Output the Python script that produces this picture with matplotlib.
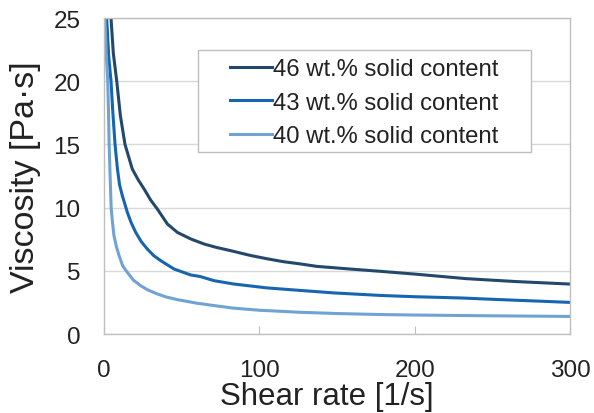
import numpy as np
import matplotlib
matplotlib.use("Agg")
import matplotlib.pyplot as plt
from matplotlib.patches import Rectangle

plt.rcParams['font.family'] = ['Liberation Sans', 'DejaVu Sans']

# shear rate [1/s] and viscosity [Pa s]
rate_46 = [4.5, 6, 8.2, 10.5, 13.5, 18.2, 22, 25.8, 30, 34.3, 40.8, 47.2, 55.8, 64.4, 72, 83, 94, 105, 115.5,
           126, 137, 158.4, 177.8, 200, 233, 265, 300]
visc_46 = [25.0, 22.2, 20.0, 17.3, 15.0, 13.05, 12.2, 11.47, 10.6, 9.89, 8.7, 8.04, 7.52, 7.12, 6.86, 6.55, 6.22,
           5.95, 5.72, 5.55, 5.35, 5.14, 4.96, 4.74, 4.38, 4.15, 3.95]

rate_43 = [1.7, 3, 4.5, 5.7, 7.1, 8.6, 10, 11.8, 15, 17.5, 20.4, 24, 27.9, 32, 36.5, 45.1, 55.8, 61.8, 70.8,
           83.2, 104.7, 126, 148, 178, 200, 230, 255, 280, 300]
visc_43 = [25.0, 22.0, 20.0, 17.5, 15.0, 13.1, 11.8, 10.94, 9.63, 8.8, 8.04, 7.3, 6.72, 6.2, 5.8, 5.14, 4.67,
           4.55, 4.22, 3.96, 3.65, 3.45, 3.25, 3.05, 2.95, 2.85, 2.72, 2.6, 2.5]

rate_40 = [0.6, 1.5, 2.4, 2.9, 3.3, 3.9, 4.6, 5.4, 6.4, 8, 9.7, 12, 15, 19, 23.6, 28, 34.3, 40, 47.2, 60.1,
           70.8, 83, 100, 126, 150, 178, 200, 250, 300]
visc_40 = [25.0, 22.0, 20.0, 17.5, 15.0, 12.6, 10.0, 8.9, 7.78, 6.9, 6.2, 5.4, 4.88, 4.25, 3.82, 3.5, 3.17,
           2.93, 2.72, 2.43, 2.25, 2.05, 1.88, 1.72, 1.62, 1.54, 1.5, 1.44, 1.39]

labels = ['46 wt.% solid content', '43 wt.% solid content', '40 wt.% solid content']
colors = ['#24486b', '#1565b1', '#6ea3d3']

fig = plt.figure(figsize=(5.94, 4.14), dpi=100)
ax = fig.add_axes([0.1751, 0.1908, 0.785, 0.7633])

ax.plot(rate_46, visc_46, color=colors[0], lw=2.2, label=labels[0])
ax.plot(rate_43, visc_43, color=colors[1], lw=2.2, label=labels[1])
ax.plot(rate_40, visc_40, color=colors[2], lw=2.2, label=labels[2])

ax.set_xlim(0, 300)
ax.set_ylim(0, 25)
ax.set_xticks([0, 100, 200, 300])
ax.set_yticks([0, 5, 10, 15, 20, 25])
ax.yaxis.grid(True, color='#d9d9d9', lw=1)
ax.set_axisbelow(True)
for s in ax.spines.values():
    s.set_color('#bfbfbf')
    s.set_linewidth(1)
ax.tick_params(axis='x', direction='in', length=6, labelsize=17.5, pad=18, colors='#222222')
ax.tick_params(axis='x', color='#bfbfbf')
ax.tick_params(axis='y', length=0, labelsize=17.5, pad=17, colors='#222222')

ax.set_xlabel('Shear rate [1/s]', fontsize=22.5, color='#222222')
ax.set_ylabel('Viscosity [Pa·s]', fontsize=24.5, color='#222222')
ax.xaxis.set_label_coords(0.4785, -0.149)
ax.yaxis.set_label_coords(-0.135, 0.5)

# legend box drawn separately (wide side padding like the original)
ax.add_patch(Rectangle((0.2017, 0.5759), 0.7146, 0.3228, transform=ax.transAxes,
                       facecolor='white', edgecolor='#bfbfbf', lw=1, zorder=4))
leg = ax.legend(loc='upper left', bbox_to_anchor=(0.2704, 0.872), borderaxespad=0, borderpad=0,
                fontsize=17.2, handlelength=1.76, handletextpad=0.05, labelspacing=0.47,
                frameon=False)
leg.set_zorder(5)
for t in leg.get_texts():
    t.set_color('#222222')

fig.savefig('out.png', dpi=100)
